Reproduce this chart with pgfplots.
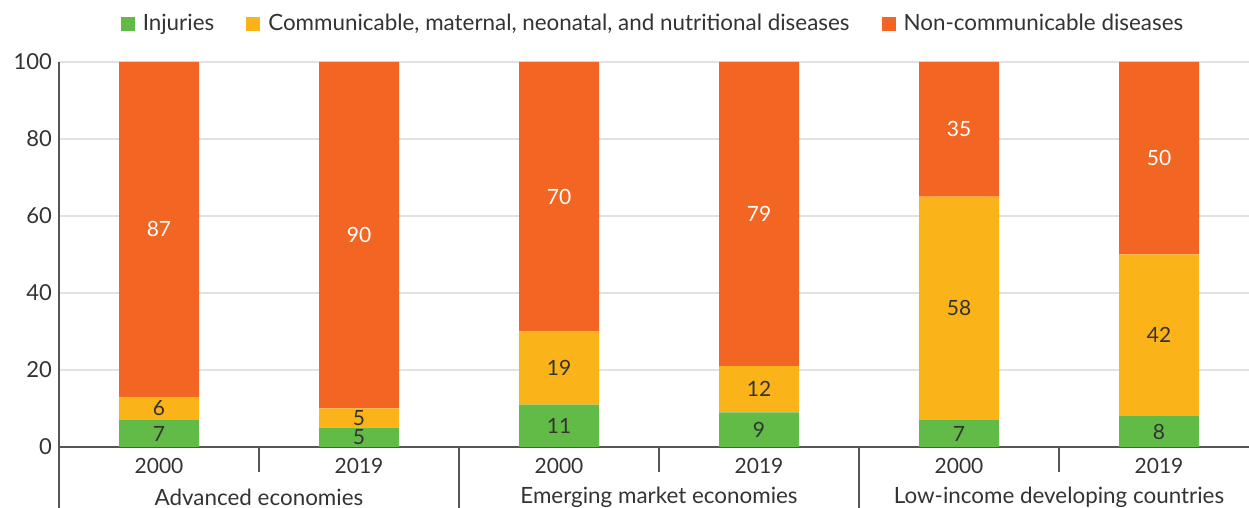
\documentclass[border=0pt]{standalone}
\usepackage{fontspec}
\setmainfont{Lato}
\usepackage{pgfplots}
\usepackage{pgfplotstable}
\pgfplotsset{compat=1.18}
\definecolor{inj}{HTML}{62BB46}
\definecolor{com}{HTML}{FBB31A}
\definecolor{ncd}{HTML}{F26522}
\definecolor{txt}{HTML}{333333}
\definecolor{grd}{HTML}{E2E2E2}
\definecolor{axl}{HTML}{555555}
\pgfplotsset{sqlegend/.style={legend image code/.code={\fill[##1] (0pt,-3.5pt) rectangle (7pt,3.5pt);}}}

% share of deaths, percent
\pgfplotstableread{
x inj com ncd
0 7 6 87
1 5 5 90
2 11 19 70
3 9 12 79
4 7 58 35
5 8 42 50
}\bars

\begin{document}
\begin{tikzpicture}
\begin{axis}[
    scale only axis,
    width=595pt, height=192.5pt,
    xmin=-0.5, xmax=5.45,
    ymin=0, ymax=100,
    ybar stacked, bar width=40pt,
    clip=false,
    axis x line*=bottom, axis y line*=left,
    axis line style={axl, line width=1pt, -},
    ytick={0,20,...,100},
    ytick style={draw=none},
    ymajorgrids, major grid style={grd, line width=0.9pt},
    yticklabel style={font=\fontsize{11}{13}\selectfont, text=txt},
    /pgf/number format/assume math mode=true,
    xtick={0,...,5},
    xticklabels={2000,2019,2000,2019,2000,2019},
    xtick style={draw=none},
    xticklabel style={font=\fontsize{10.5}{12}\selectfont, text=txt, yshift=-2pt},
    legend style={at={(0.5,1)}, anchor=south, yshift=10pt, draw=none,
        legend columns=-1, font=\fontsize{11.2}{13}\selectfont, text=txt,
        /tikz/every even column/.append style={column sep=14pt},
        /tikz/every odd column/.append style={column sep=2pt}},
    nodes near coords,
    every node near coord/.append style={font=\fontsize{10.5}{12}\selectfont},
]
\addplot[fill=inj, draw=none, sqlegend, every node near coord/.append style={text=txt}] table[x=x, y=inj] {\bars};
\addplot[fill=com, draw=none, sqlegend, every node near coord/.append style={text=txt}] table[x=x, y=com] {\bars};
\addplot[fill=ncd, draw=none, sqlegend, every node near coord/.append style={text=white}] table[x=x, y=ncd] {\bars};
\legend{Injuries, {Communicable, maternal, neonatal, and nutritional diseases}, Non-communicable diseases}

% group separators and group names
\draw[axl, line width=1pt] (axis cs:-0.5,0) -- ++(0pt,-30.5pt);
\draw[axl, line width=0.8pt] (axis cs:0.5,0) -- ++(0pt,-12.5pt);
\draw[axl, line width=0.8pt] (axis cs:1.5,0) -- ++(0pt,-30.5pt);
\draw[axl, line width=0.8pt] (axis cs:2.5,0) -- ++(0pt,-12.5pt);
\draw[axl, line width=0.8pt] (axis cs:3.5,0) -- ++(0pt,-30.5pt);
\draw[axl, line width=0.8pt] (axis cs:4.5,0) -- ++(0pt,-12.5pt);
\node[font=\fontsize{11.2}{13}\selectfont, text=txt] at ([yshift=-25pt]axis cs:0.5,0) {Advanced economies};
\node[font=\fontsize{11.2}{13}\selectfont, text=txt] at ([yshift=-25pt]axis cs:2.5,0) {Emerging market economies};
\node[font=\fontsize{11.2}{13}\selectfont, text=txt] at ([yshift=-25pt]axis cs:4.5,0) {Low-income developing countries};

\coordinate (bbsw) at (rel axis cs:0,0);
\coordinate (bbne) at (rel axis cs:1,1);
\end{axis}
\pgfresetboundingbox
\path[use as bounding box] ([xshift=-29.5pt,yshift=-30.5pt]bbsw) rectangle ([yshift=31pt]bbne);
\end{tikzpicture}
\end{document}
